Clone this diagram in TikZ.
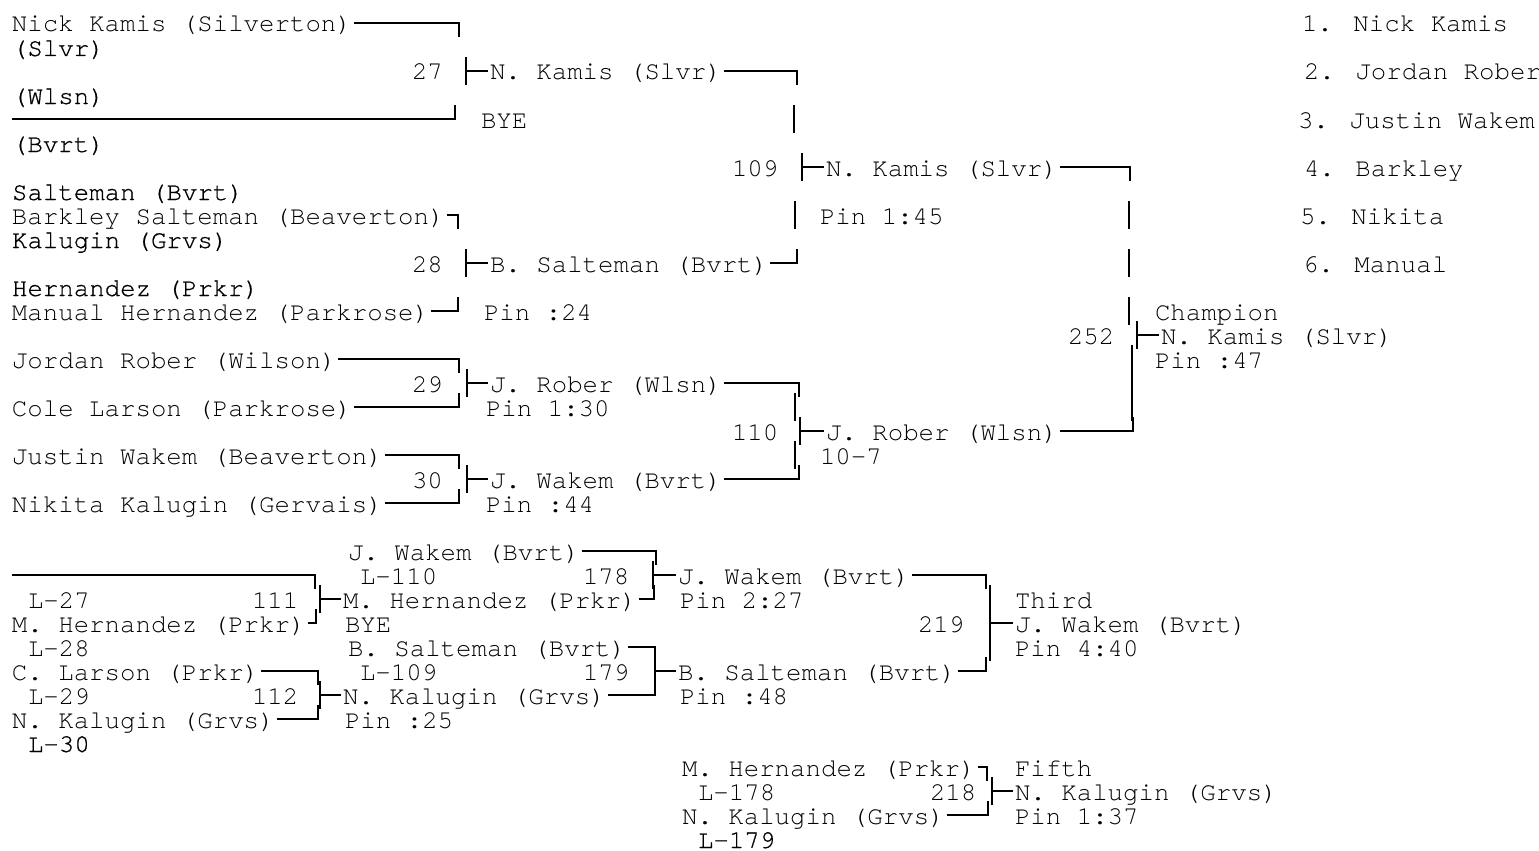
\documentclass[tikz,border=0pt]{standalone}
\usepackage{fontspec}
\usepackage{tikz}
\usetikzlibrary{positioning}
\newfontfamily\bracketmono{TeX Gyre Cursor}
\newfontfamily\heavymono[FakeBold=0.6]{TeX Gyre Cursor}
\newcommand{\bracketfont}{\bracketmono\fontsize{25.75pt}{24pt}\selectfont}
\newcommand{\ghostfont}{\heavymono\fontsize{25.75pt}{24pt}\selectfont}

\begin{document}
\begin{tikzpicture}[x=1pt, y=-1pt,
		txt/.style={anchor=base west, inner sep=0pt, outer sep=0pt, font=\bracketfont},
		ghost/.style={txt, font=\ghostfont},
		wire/.style={line width=1.6pt}
		]
		\useasboundingbox (0,0) rectangle (1539,851);
		% championship bracket, first round
		\node[txt] (nkamis) at (12,32) {Nick Kamis (Silverton)};
		\node[ghost] (gslvr) at (12,56) {(Slvr)};
		\node[txt] (m27) at (412,80) {27};
		\node[txt] (w27) at (490,80) {N. Kamis (Slvr)};
		\node[ghost] (gwlsn) at (12,104) {(Wlsn)};
		\node[txt] (r27) at (481,128) {BYE};
		\node[ghost] (gbvrt) at (12,152) {(Bvrt)};
		\node[ghost] (gsalt) at (12,200) {Salteman (Bvrt)};
		\node[txt] (bsalt) at (12,224) {Barkley Salteman (Beaverton)};
		\node[ghost] (gkal) at (12,248) {Kalugin (Grvs)};
		\node[txt] (m28) at (412,272) {28};
		\node[txt] (w28) at (490,272) {B. Salteman (Bvrt)};
		\node[ghost] (gher) at (12,296) {Hernandez (Prkr)};
		\node[txt] (mher) at (12,320) {Manual Hernandez (Parkrose)};
		\node[txt] (r28) at (484,320) {Pin :24};
		\node[txt] (jrob) at (12,368) {Jordan Rober (Wilson)};
		\node[txt] (m29) at (412,392) {29};
		\node[txt] (w29) at (490,392) {J. Rober (Wlsn)};
		\node[txt] (clar) at (12,416) {Cole Larson (Parkrose)};
		\node[txt] (r29) at (486,416) {Pin 1:30};
		\node[txt] (jwak) at (12,464) {Justin Wakem (Beaverton)};
		\node[txt] (m30) at (412,488) {30};
		\node[txt] (w30) at (490,488) {J. Wakem (Bvrt)};
		\node[txt] (nkal) at (12,512) {Nikita Kalugin (Gervais)};
		\node[txt] (r30) at (486,512) {Pin :44};
		% semifinals and final
		\node[txt] (m109) at (732,176) {109};
		\node[txt] (w109) at (826,176) {N. Kamis (Slvr)};
		\node[txt] (r109) at (820,224) {Pin 1:45};
		\node[txt] (m110) at (732,440) {110};
		\node[txt] (w110) at (826,440) {J. Rober (Wlsn)};
		\node[txt] (r110) at (820,464) {10-7};
		\node[txt] (t252) at (1155,320) {Champion};
		\node[txt] (m252) at (1068,344) {252};
		\node[txt] (w252) at (1161,344) {N. Kamis (Slvr)};
		\node[txt] (r252) at (1155,368) {Pin :47};
		% placings
		\foreach \xx/\yy/\n/\who in {1302/32/1/Nick Kamis, 1304/80/2/Jordan Rober,
			1298/128/3/Justin Wakem, 1304/176/4/Barkley, 1300/224/5/Nikita, 1303/272/6/Manual}
		\node[txt] (place\n) at (\xx,\yy) {\n. \who};
		% consolation
		\node[txt] (c178a) at (348,560) {J. Wakem (Bvrt)};
		\node[txt] (l110) at (360,584) {L-110};
		\node[txt] (m178) at (583,584) {178};
		\node[txt] (w178) at (678,584) {J. Wakem (Bvrt)};
		\node[txt] (l27) at (28,608) {L-27};
		\node[txt] (m111) at (252,608) {111};
		\node[txt] (w111) at (343,608) {M. Hernandez (Prkr)};
		\node[txt] (r178) at (680,608) {Pin 2:27};
		\node[txt] (t219) at (1015,608) {Third};
		\node[txt] (c111) at (12,632) {M. Hernandez (Prkr)};
		\node[txt] (r111) at (345,632) {BYE};
		\node[txt] (m219) at (918,632) {219};
		\node[txt] (w219) at (1015,632) {J. Wakem (Bvrt)};
		\node[txt] (l28) at (28,656) {L-28};
		\node[txt] (c179a) at (348,656) {B. Salteman (Bvrt)};
		\node[txt] (r219) at (1015,656) {Pin 4:40};
		\node[txt] (c112a) at (12,680) {C. Larson (Prkr)};
		\node[txt] (l109) at (360,680) {L-109};
		\node[txt] (m179) at (583,680) {179};
		\node[txt] (w179) at (678,680) {B. Salteman (Bvrt)};
		\node[txt] (l29) at (28,704) {L-29};
		\node[txt] (m112) at (252,704) {112};
		\node[txt] (w112) at (343,704) {N. Kalugin (Grvs)};
		\node[txt] (r179) at (680,704) {Pin :48};
		\node[txt] (c112b) at (12,728) {N. Kalugin (Grvs)};
		\node[txt] (r112) at (345,728) {Pin :25};
		\node[ghost] (l30) at (28,752) {L-30};
		\node[txt] (c218a) at (682,776) {M. Hernandez (Prkr)};
		\node[txt] (t218) at (1015,776) {Fifth};
		\node[txt] (l178) at (698,800) {L-178};
		\node[txt] (m218) at (930,800) {218};
		\node[txt] (w218) at (1015,800) {N. Kalugin (Grvs)};
		\node[txt] (c218b) at (682,824) {N. Kalugin (Grvs)};
		\node[txt] (r218) at (1015,824) {Pin 1:37};
		\node[ghost] (l179) at (698,848) {L-179};
		% bracket 27
		\draw[wire] ([xshift=2pt,yshift=9pt]nkamis.base east) -- (459,23) -- (459,37);
		\draw[wire] (466,57) -- (466,85) (466,71) -- ([xshift=-2pt,yshift=9pt]w27.base west);
		\draw[wire] (12,119) -- (455,119) -- (455,105);
		% bracket 28
		\draw[wire] ([xshift=2pt,yshift=9pt]bsalt.base east) -- (458,215) -- (458,229);
		\draw[wire] (466,249) -- (466,277) (466,263) -- ([xshift=-2pt,yshift=9pt]w28.base west);
		\draw[wire] ([xshift=2pt,yshift=9pt]mher.base east) -- (458,311) -- (458,297);
		% bracket 29
		\draw[wire] ([xshift=2pt,yshift=9pt]jrob.base east) -- (459,359) -- (459,373);
		\draw[wire] (467,369) -- (467,397) (467,383) -- ([xshift=-2pt,yshift=9pt]w29.base west);
		\draw[wire] ([xshift=2pt,yshift=9pt]clar.base east) -- (459,407) -- (459,393);
		% bracket 30
		\draw[wire] ([xshift=2pt,yshift=9pt]jwak.base east) -- (459,455) -- (459,469);
		\draw[wire] (467,465) -- (467,493) (467,479) -- ([xshift=-2pt,yshift=9pt]w30.base west);
		\draw[wire] ([xshift=2pt,yshift=9pt]nkal.base east) -- (459,503) -- (459,489);
		% bracket 109
		\draw[wire] ([xshift=2pt,yshift=9pt]w27.base east) -- (797,71) -- (797,85);
		\draw[wire] (794,105) -- (794,133);
		\draw[wire] (802,153) -- (802,181) (802,167) -- ([xshift=-2pt,yshift=9pt]w109.base west);
		\draw[wire] (795,201) -- (795,229);
		\draw[wire] ([xshift=2pt,yshift=9pt]w28.base east) -- (797,263) -- (797,249);
		% bracket 110
		\draw[wire] ([xshift=2pt,yshift=9pt]w29.base east) -- (799,383) -- (799,397);
		\draw[wire] (795,393) -- (795,421);
		\draw[wire] (800,417) -- (800,445) (800,431) -- ([xshift=-2pt,yshift=9pt]w110.base west);
		\draw[wire] (795,441) -- (795,469);
		\draw[wire] ([xshift=2pt,yshift=9pt]w30.base east) -- (799,479) -- (799,465);
		% bracket 252
		\draw[wire] ([xshift=2pt,yshift=9pt]w109.base east) -- (1130,167) -- (1130,181);
		\draw[wire] (1129,201) -- (1129,229) (1129,249) -- (1129,277) (1129,297) -- (1129,325);
		\draw[wire] (1137,321) -- (1137,349) (1137,335) -- ([xshift=-2pt,yshift=9pt]w252.base west);
		\draw[wire] (1132,345) -- (1132,421);
		\draw[wire] ([xshift=2pt,yshift=9pt]w110.base east) -- (1133,431) -- (1133,417);
		% bracket 111
		\draw[wire] (12,575) -- (315,575) -- (315,589);
		\draw[wire] (320,585) -- (320,613) (320,599) -- ([xshift=-2pt,yshift=9pt]w111.base west);
		\draw[wire] ([xshift=2pt,yshift=9pt]c111.base east) -- (316,623) -- (316,609);
		% bracket 112
		\draw[wire] ([xshift=2pt,yshift=9pt]c112a.base east) -- (318,671) -- (318,685);
		\draw[wire] (320,681) -- (320,709) (320,695) -- ([xshift=-2pt,yshift=9pt]w112.base west);
		\draw[wire] ([xshift=2pt,yshift=9pt]c112b.base east) -- (318,719) -- (318,705);
		% bracket 178
		\draw[wire] ([xshift=2pt,yshift=9pt]c178a.base east) -- (656,551) -- (656,565);
		\draw[wire] (653,561) -- (653,589) (653,575) -- ([xshift=-2pt,yshift=9pt]w178.base west);
		\draw[wire] ([xshift=2pt,yshift=9pt]w111.base east) -- (654,599) -- (654,585);
		% bracket 179
		\draw[wire] ([xshift=2pt,yshift=9pt]c179a.base east) -- (655,647) -- (655,661);
		\draw[wire] (655,657) -- (655,685) (655,671) -- ([xshift=-2pt,yshift=9pt]w179.base west);
		\draw[wire] ([xshift=2pt,yshift=9pt]w112.base east) -- (655,695) -- (655,681);
		% bracket 219
		\draw[wire] ([xshift=2pt,yshift=9pt]w178.base east) -- (986,575) -- (986,589);
		\draw[wire] (990,585) -- (990,661) (990,623) -- ([xshift=-2pt,yshift=9pt]w219.base west);
		\draw[wire] ([xshift=2pt,yshift=9pt]w179.base east) -- (986,671) -- (986,657);
		% bracket 218
		\draw[wire] ([xshift=2pt,yshift=9pt]c218a.base east) -- (987,767) -- (987,781);
		\draw[wire] (992,777) -- (992,805) (992,791) -- ([xshift=-2pt,yshift=9pt]w218.base west);
		\draw[wire] ([xshift=2pt,yshift=9pt]c218b.base east) -- (988,815) -- (988,801);
	\end{tikzpicture}
\end{document}
